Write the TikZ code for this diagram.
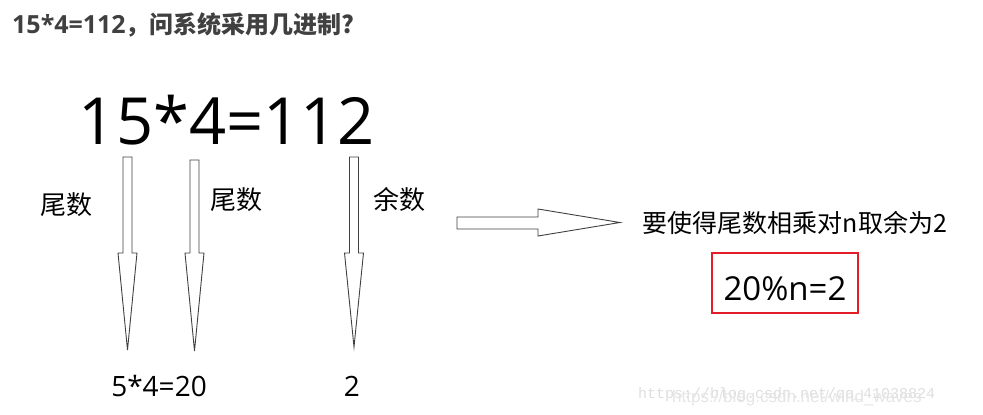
\documentclass[tikz,border=0pt]{standalone}
\usepackage{fontspec}
\setmainfont{Open Sans}
\newfontfamily\cjk{Noto Sans CJK SC}
\newfontfamily\wmmono{Liberation Mono}
\newfontfamily\wmsans{Liberation Sans}
\usetikzlibrary{positioning}
\definecolor{titlegray}{RGB}{64,64,64}
\definecolor{boxred}{RGB}{228,30,40}

\begin{document}
\begin{tikzpicture}[
    x=1pt, y=-1pt,
    fat/.style={draw=black!75, line width=0.9pt, fill=white},
    tag/.style={font=\cjk\fontsize{26}{30}\selectfont},
    result/.style={anchor=base, font=\fontsize{28}{32}\selectfont},
    redbox/.style={draw=boxred, line width=2pt, minimum width=146pt, minimum height=60pt, text height=34pt, text depth=0pt, inner sep=0pt, font=\fontsize{33}{40}\selectfont},
    leftbase/.style={anchor=base west, inner sep=0pt}
]
\useasboundingbox (0,0) rectangle (983,415);

% Question
\node[leftbase, text=titlegray] (question) at (12,33)
  {\fontsize{25}{30}\selectfont\bfseries 15*4=112\cjk\fontsize{24}{28}\selectfont ，问系统采用几进制?};

% Equation and labels
\node[anchor=base, font=\fontsize{65}{78}\selectfont] (eq) at (227,144) {15*4=112};
\node[tag] (tailA) at (66,205) {尾数};
\node[tag] (tailB) at (236,200) {尾数};
\node[tag] (rest) at (399,200) {余数};

% Down arrows
\foreach \x/\top/\tip in {127.5/157/350, 194.5/160/351, 354/157/347}
  \draw[fat] (\x-4.5,\top) -- (\x+4.5,\top) -- (\x+4.5,253) -- (\x+9.5,253)
    -- (\x,\tip) -- (\x-9.5,253) -- (\x-4.5,253) -- cycle;

\node[result] (prod) at (159,396) {5*4=20};
\node[result] (two) at (352,396) {2};

% Right arrow
\draw[fat] (457,217) -- (538,217) -- (538,209) -- (620,222.5) -- (538,236)
  -- (538,229) -- (457,229) -- cycle;

\node[font=\cjk\fontsize{25}{30}\selectfont] (rule) at (795,223) {要使得尾数相乘对n取余为2};
\node[redbox] (answer) at (785,283) {20\%n=2};

% Watermark
\node[leftbase, text=black!13, font=\wmmono\fontsize{15}{18}\selectfont] (wmA) at (638,398) {https://blog.csdn.net/qq\_41038824};
\node[leftbase, text=black!10, font=\wmsans\fontsize{17}{20}\selectfont] (wmB) at (672,402) {https://blog.csdn.net/wind\_waves};
\end{tikzpicture}
\end{document}
